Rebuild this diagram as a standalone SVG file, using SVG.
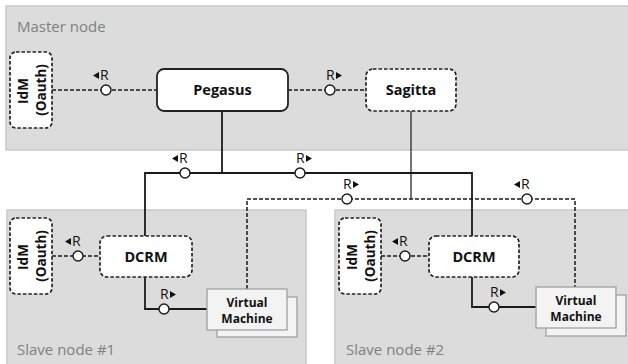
<svg xmlns="http://www.w3.org/2000/svg" width="628" height="364" viewBox="0 0 628 364">
<defs>
<style>
.region{fill:#dcdcdc;stroke:#c8c8c8;stroke-width:1.5}
.rlabel{font-family:"Open Sans","Liberation Sans",sans-serif;font-size:15px;fill:#808080}
.box{fill:#fff;stroke:#222;stroke-width:1.8}
.dbox{fill:#fff;stroke:#222;stroke-width:1.7;stroke-dasharray:3.5 2}
.vm{fill:#f3f3f3;stroke:#a0a0a0;stroke-width:1.3}
.t{font-family:"Open Sans","Liberation Sans",sans-serif;font-weight:bold;font-size:14.5px;fill:#111;text-anchor:middle}
.tv{font-family:"Open Sans","Liberation Sans",sans-serif;font-weight:bold;font-size:12px;fill:#111;text-anchor:middle}
.ti{font-family:"Open Sans","Liberation Sans",sans-serif;font-weight:bold;font-size:13.5px;fill:#111;text-anchor:middle}
.solid{fill:none;stroke:#1a1a1a;stroke-width:1.8}
.thin{fill:none;stroke:#1a1a1a;stroke-width:1.2}
.dash{fill:none;stroke:#1a1a1a;stroke-width:1.5;stroke-dasharray:4 2}
.port{fill:#fff;stroke:#1a1a1a;stroke-width:1.4}
.r{font-family:"Open Sans","Liberation Sans",sans-serif;font-size:14px;fill:#111}
.tri{fill:#111}
</style>
<polygon id="tl" class="tri" points="0,-4.5 6,-8 6,-1"/>
<polygon id="tr" class="tri" points="0,-8 0,-1 6,-4.5"/>
</defs>

<g id="master-node">
<rect class="region" x="6" y="6" width="630" height="144"/>
<text class="rlabel" x="17" y="32">Master node</text>
</g>
<g id="slave-node-1">
<rect class="region" x="7" y="210" width="299" height="160"/>
<text class="rlabel" x="17" y="355">Slave node #1</text>
</g>
<g id="slave-node-2">
<rect class="region" x="335" y="210" width="300" height="160"/>
<text class="rlabel" x="346" y="355">Slave node #2</text>
</g>

<g id="connectors">
<path class="solid" d="M222,111 V173"/>
<path class="solid" d="M145,236 V173 H472 V236"/>
<path class="solid" d="M145,277 V309 H207"/>
<path class="solid" d="M472,277 V307 H536"/>
<path class="thin" d="M411,111 V199"/>
<path class="dash" d="M52,90 H157"/>
<path class="dash" d="M288,90 H366"/>
<path class="dash" d="M247,289 V199 H575 V287"/>
<path class="dash" d="M52,256 H100"/>
<path class="dash" d="M381,256 H429"/>

<circle class="port" cx="106" cy="90" r="5"/>
<use href="#tl" x="93" y="80"/><text class="r" x="100" y="80">R</text>
<circle class="port" cx="330" cy="90" r="5"/>
<text class="r" x="326" y="80">R</text><use href="#tr" x="336" y="80"/>
<circle class="port" cx="185" cy="173" r="5"/>
<use href="#tl" x="172" y="163"/><text class="r" x="179" y="163">R</text>
<circle class="port" cx="300" cy="173" r="5"/>
<text class="r" x="296" y="163">R</text><use href="#tr" x="306" y="163"/>
<circle class="port" cx="347" cy="199" r="5"/>
<text class="r" x="343" y="189">R</text><use href="#tr" x="353" y="189"/>
<circle class="port" cx="527" cy="199" r="5"/>
<use href="#tl" x="514" y="189"/><text class="r" x="521" y="189">R</text>
<circle class="port" cx="78" cy="256" r="5"/>
<use href="#tl" x="65" y="246"/><text class="r" x="72" y="246">R</text>
<circle class="port" cx="164" cy="309" r="5"/>
<text class="r" x="160" y="299">R</text><use href="#tr" x="170" y="299"/>
<circle class="port" cx="405" cy="256" r="5"/>
<use href="#tl" x="392" y="246"/><text class="r" x="399" y="246">R</text>
<circle class="port" cx="494" cy="307" r="5"/>
<text class="r" x="490" y="297">R</text><use href="#tr" x="500" y="297"/>
</g>

<g id="idm-master">
<rect class="dbox" x="10" y="52" width="42" height="76" rx="6"/>
<text class="ti" transform="translate(28,91) rotate(-90)">IdM</text>
<text class="ti" transform="translate(46,90) rotate(-90)">(Oauth)</text>
</g>
<g id="pegasus">
<rect class="box" x="157" y="69" width="131" height="42" rx="7"/>
<text class="t" x="222.5" y="95">Pegasus</text>
</g>
<g id="sagitta">
<rect class="dbox" x="366" y="69" width="90" height="42" rx="7"/>
<text class="t" x="411" y="95">Sagitta</text>
</g>

<g id="idm-slave1">
<rect class="dbox" x="10" y="218" width="42" height="76" rx="6"/>
<text class="ti" transform="translate(28,257) rotate(-90)">IdM</text>
<text class="ti" transform="translate(46,256) rotate(-90)">(Oauth)</text>
</g>
<g id="dcrm1">
<rect class="dbox" x="100" y="236" width="92" height="41" rx="7"/>
<text class="t" x="146" y="262">DCRM</text>
</g>
<g id="vm1">
<rect class="vm" x="217" y="297" width="80" height="40"/>
<rect class="vm" x="207" y="289" width="80" height="41"/>
<text class="tv" x="247" y="307">Virtual</text>
<text class="tv" x="247" y="323">Machine</text>
</g>

<g id="idm-slave2">
<rect class="dbox" x="339" y="218" width="42" height="76" rx="6"/>
<text class="ti" transform="translate(357,257) rotate(-90)">IdM</text>
<text class="ti" transform="translate(375,256) rotate(-90)">(Oauth)</text>
</g>
<g id="dcrm2">
<rect class="dbox" x="429" y="236" width="90" height="41" rx="7"/>
<text class="t" x="474" y="262">DCRM</text>
</g>
<g id="vm2">
<rect class="vm" x="546" y="295" width="80" height="41"/>
<rect class="vm" x="536" y="287" width="80" height="41"/>
<text class="tv" x="576" y="305">Virtual</text>
<text class="tv" x="576" y="321">Machine</text>
</g>
</svg>
